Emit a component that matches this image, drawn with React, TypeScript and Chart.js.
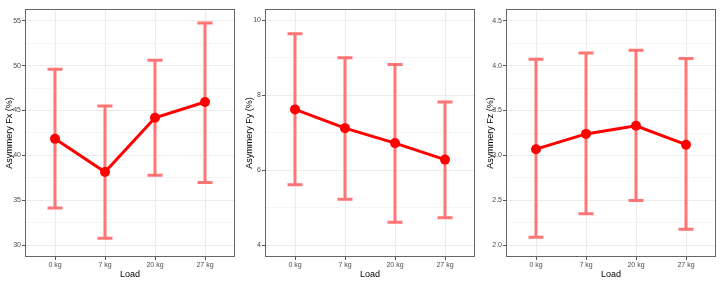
import React, { useEffect, useRef } from "react";
import { Chart, registerables } from "chart.js";

Chart.register(...registerables);

const categories = ["0 kg", "7 kg", "20 kg", "27 kg"];

const fxMean = [41.85, 38.15, 44.2, 45.95];
const fxLower = [34.15, 30.8, 37.8, 37.0];
const fxUpper = [49.6, 45.5, 50.6, 54.75];
const fxMajor = [30, 35, 40, 45, 50, 55];
const fxMinor = [32.5, 37.5, 42.5, 47.5, 52.5];
const fxRange = [28.7, 56.3];

const fyMean = [7.62, 7.12, 6.72, 6.28];
const fyLower = [5.61, 5.22, 4.61, 4.73];
const fyUpper = [9.64, 9.0, 8.82, 7.82];
const fyMajor = [4, 6, 8, 10];
const fyMinor = [5, 7, 9];
const fyRange = [3.68, 10.3];

const fzMean = [3.07, 3.24, 3.33, 3.12];
const fzLower = [2.09, 2.35, 2.5, 2.18];
const fzUpper = [4.07, 4.14, 4.17, 4.08];
const fzMajor = [2.0, 2.5, 3.0, 3.5, 4.0, 4.5];
const fzMinor = [2.25, 2.75, 3.25, 3.75, 4.25];
const fzRange = [1.87, 4.63];

const FONT = "'Liberation Sans', Arial, sans-serif";

type PanelProps = {
  title: string;
  mean: number[];
  lower: number[];
  upper: number[];
  major: number[];
  minor: number[];
  range: number[];
  decimals: number;
  left: number;
  width: number;
  padRight: number;
};

function Panel(p: PanelProps) {
  const ref = useRef<HTMLCanvasElement | null>(null);
  useEffect(() => {
    if (!ref.current) return;
    const errorBars = {
      id: "errorBars",
      beforeDatasetsDraw(chart: any) {
        const xs = chart.scales.x;
        const ys = chart.scales.y;
        const ctx = chart.ctx;
        ctx.save();
        ctx.strokeStyle = "#FF7474";
        ctx.lineWidth = 3;
        ctx.lineCap = "butt";
        p.mean.forEach((_, i) => {
          const x = xs.getPixelForValue(i);
          const x0 = xs.getPixelForValue(i - 0.15);
          const x1 = xs.getPixelForValue(i + 0.15);
          const yl = ys.getPixelForValue(p.lower[i]);
          const yu = ys.getPixelForValue(p.upper[i]);
          ctx.beginPath();
          ctx.moveTo(x, yl);
          ctx.lineTo(x, yu);
          ctx.moveTo(x0, yl);
          ctx.lineTo(x1, yl);
          ctx.moveTo(x0, yu);
          ctx.lineTo(x1, yu);
          ctx.stroke();
        });
        ctx.restore();
      },
    };
    const frame = {
      id: "frame",
      afterDatasetsDraw(chart: any) {
        const a = chart.chartArea;
        const ctx = chart.ctx;
        ctx.save();
        ctx.strokeStyle = "#666666";
        ctx.lineWidth = 1;
        ctx.strokeRect(Math.round(a.left) + 0.5, Math.round(a.top) + 0.5, Math.round(a.right - a.left) - 1, Math.round(a.bottom - a.top) - 1);
        ctx.restore();
      },
    };
    const allTicks = [...p.major, ...p.minor].sort((a, b) => a - b);
    const chart = new Chart(ref.current, {
      type: "line",
      data: {
        datasets: [
          {
            data: p.mean.map((y, i) => ({ x: i, y })),
            borderColor: "#FF0000",
            backgroundColor: "#FF0000",
            borderWidth: 3,
            pointRadius: 5,
            pointHoverRadius: 5,
            pointBorderWidth: 0,
            tension: 0,
          },
        ],
      },
      options: {
        animation: false,
        responsive: false,
        maintainAspectRatio: false,
        devicePixelRatio: 1,
        events: [],
        layout: { padding: { top: 9, right: p.padRight, left: 0, bottom: 0 } },
        plugins: { legend: { display: false }, tooltip: { enabled: false } },
        scales: {
          x: {
            type: "linear",
            min: -0.6,
            max: 3.6,
            afterBuildTicks: (s: any) => {
              s.ticks = categories.map((_, i) => ({ value: i }));
            },
            afterFit: (s: any) => {
              s.height = 26;
            },
            ticks: {
              callback: (v: any) => categories[v as number],
              font: { family: FONT, size: 7 },
              color: "#4D4D4D",
              padding: 1,
              maxRotation: 0,
              autoSkip: false,
            },
            grid: { color: "#EBEBEB", lineWidth: 1, tickLength: 3, tickColor: "#555555" },
            border: { display: false },
            title: {
              display: true,
              text: "Load",
              font: { family: FONT, size: 9 },
              color: "#000000",
              padding: { top: 0, bottom: 3 },
            },
          },
          y: {
            type: "linear",
            min: p.range[0],
            max: p.range[1],
            afterBuildTicks: (s: any) => {
              s.ticks = allTicks.map((v) => ({ value: v }));
            },
            afterFit: (s: any) => {
              s.width = 25;
            },
            ticks: {
              callback: (v: any) => (p.major.includes(v as number) ? (v as number).toFixed(p.decimals) : ""),
              font: { family: FONT, size: 7 },
              color: "#4D4D4D",
              padding: 1,
              autoSkip: false,
            },
            grid: {
              color: (c: any) => (p.major.includes(c.tick.value) ? "#EBEBEB" : "#F5F5F5"),
              lineWidth: 1,
              tickLength: 3,
              tickColor: (c: any) => (p.major.includes(c.tick.value) ? "#555555" : "rgba(0,0,0,0)"),
            },
            border: { display: false },
            title: {
              display: true,
              text: p.title,
              font: { family: FONT, size: 9 },
              color: "#000000",
              padding: { top: 4, bottom: 0 },
            },
          },
        },
      },
      plugins: [errorBars, frame],
    } as any);
    return () => chart.destroy();
  }, []);
  return (
    <canvas
      ref={ref}
      width={p.width}
      height={283}
      style={{ position: "absolute", left: p.left, top: 0, width: p.width, height: 283 }}
    />
  );
}

export default function App() {
  return (
    <div style={{ position: "absolute", left: 0, top: 0, width: 722, height: 283, background: "#FFFFFF" }}>
      <Panel title="Asymmery Fx (%)" mean={fxMean} lower={fxLower} upper={fxUpper} major={fxMajor} minor={fxMinor} range={fxRange} decimals={0} left={0} width={240} padRight={4} />
      <Panel title="Asymmery Fy (%)" mean={fyMean} lower={fyLower} upper={fyUpper} major={fyMajor} minor={fyMinor} range={fyRange} decimals={0} left={240} width={240} padRight={4} />
      <Panel title="Asymmery Fz (%)" mean={fzMean} lower={fzLower} upper={fzUpper} major={fzMajor} minor={fzMinor} range={fzRange} decimals={1} left={481} width={241} padRight={6} />
    </div>
  );
}
